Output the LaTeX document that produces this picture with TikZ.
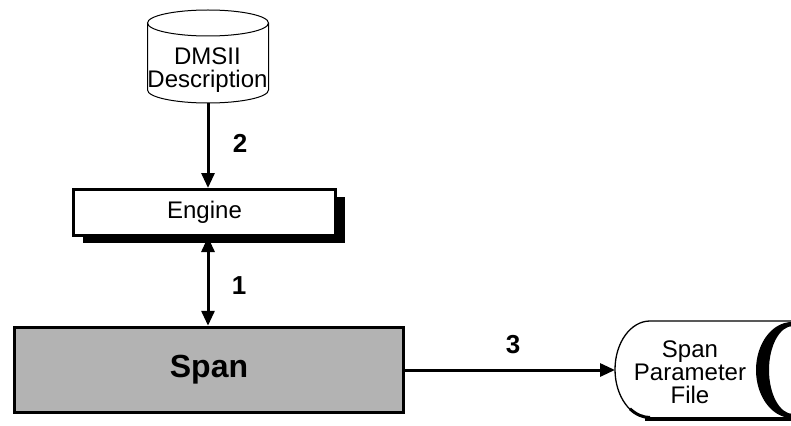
\documentclass[tikz,border=0pt]{standalone}
\usepackage{fontspec}
\setmainfont{Liberation Sans}
\usetikzlibrary{arrows.meta,shadows}
\definecolor{spangray}{RGB}{179,179,179}
\begin{document}
\begin{tikzpicture}[x=1pt,y=-1pt,
  lbl/.style={font=\fontsize{24}{23}\selectfont, align=center, inner sep=0pt},
  num/.style={font=\fontsize{26}{26}\selectfont\bfseries, inner sep=0pt},
  conn/.style={line width=3pt, -{Triangle[length=15pt,width=13pt]}},
  biconn/.style={line width=3pt, {Triangle[length=15pt,width=13pt]}-{Triangle[length=15pt,width=13pt]}},
  enginebox/.style={draw, line width=3pt, fill=white, minimum width=262pt, minimum height=46pt,
    font=\fontsize{24}{24}\selectfont,
    drop shadow={shadow xshift=9pt, shadow yshift=-7pt, opacity=1, fill=black}},
  spanbox/.style={draw, line width=3.5pt, fill=spangray, minimum width=389pt, minimum height=85pt,
    font=\fontsize{32}{32}\selectfont\bfseries},
  thin/.style={line width=1pt},
]
\useasboundingbox (0,0) rectangle (791,425);

% DMSII Description cylinder
\node[minimum width=121pt, minimum height=93pt, inner sep=0pt] (dms) at (208,56.5) {};
\draw[thin, fill=white] (147.5,23) -- (147.5,90) arc[start angle=180, end angle=0, x radius=60.5, y radius=13] -- (268.5,23);
\draw[thin] (208,23) ellipse[x radius=60.5, y radius=13];
\node[lbl] (dmstext) at (207.5,70) {DMSII\\Description};

% Engine
\node[enginebox] (engine) at (204.5,212.5) {Engine};

% Span
\node[spanbox] (span) at (209,370) {Span};

% Span Parameter File
\fill[white] (650,321) -- (791,321) -- (791,418) -- (650,418) arc[start angle=90, end angle=270, x radius=35, y radius=48.5] -- cycle;
\draw[line width=4pt] (645,419) -- (791,419);
\draw[line width=1.3pt] (791,321) -- (650,321) arc[start angle=270, end angle=90, x radius=35, y radius=48.5];
\draw[line width=3pt] (650,417.5) arc[start angle=90, end angle=125, x radius=35, y radius=48.5];
\fill[black, even odd rule] (792,370) ellipse[x radius=36, y radius=48] (793,370) ellipse[x radius=24, y radius=44];
\node[lbl] (spf) at (690,372) {Span\\Parameter\\File};
\coordinate (spfw) at (615,370);

% connectors
\draw[conn] (dms.south) -- (dms.south |- engine.north);
\draw[biconn] (engine.south -| dms.south) -- (span.north -| dms.south);
\draw[conn] (span.east) -- (spfw);

% labels
\node[num] (n2) at (240,143) {2};
\node[num] (n1) at (239,286) {1};
\node[num] (n3) at (513,345) {3};
\end{tikzpicture}
\end{document}
